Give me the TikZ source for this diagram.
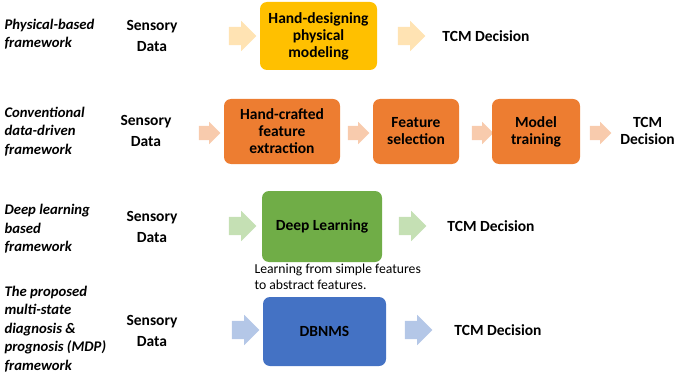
\documentclass[tikz,border=0pt]{standalone}
\usepackage{fontspec}
\setmainfont{Carlito}
\usetikzlibrary{shapes.arrows}
\definecolor{yellowbox}{HTML}{FFC000}
\definecolor{yellowarr}{HTML}{FFE3B3}
\definecolor{orangebox}{HTML}{ED7D31}
\definecolor{orangearr}{HTML}{F8CBAD}
\definecolor{greenbox}{HTML}{70AD47}
\definecolor{greenarr}{HTML}{C5E0B4}
\definecolor{bluebox}{HTML}{4472C4}
\definecolor{bluearr}{HTML}{B4C7E7}
\begin{document}
\begin{tikzpicture}[x=1pt, y=-1pt,
		every node/.style = {font=\fontsize{15.5}{21}\selectfont\bfseries, align=center},
		frame/.style = {font=\fontsize{14.7}{18.5}\selectfont\bfseries\itshape, anchor=west, align=left},
		block/.style = {rounded corners=7pt, inner sep=0pt, font=\fontsize{15.5}{17}\selectfont\bfseries},
		bigarrow/.style = {single arrow, inner sep=9pt, single arrow head extend=6pt,
			minimum height=26pt},
		smallarrow/.style = {single arrow, inner sep=7pt, single arrow head extend=4pt,
			minimum height=18pt}]
		\useasboundingbox (0,0) rectangle (676,374);
		
		% physical-based
		\node[frame] (lab1) at (1,34) {Physical-based\\framework};
		\node (in1) at (152,35.5) {Sensory\\Data};
		\node[bigarrow, fill=yellowarr] (a11) at (238,36) {};
		\node[block, fill=yellowbox, minimum width=117pt, minimum height=68pt] (hand) at (318.5,36) {Hand-designing\\physical\\modeling};
		\node[bigarrow, fill=yellowarr] (a12) at (407,36) {};
		\node (out1) at (486,36) {TCM Decision};
		
		% conventional data-driven
		\node[frame] (lab2) at (1,131.5) {Conventional\\data-driven\\framework};
		\node (in2) at (146,131) {Sensory\\Data};
		\node[smallarrow, fill=orangearr] (a21) at (206,133) {};
		\node[block, fill=orangebox, minimum width=116pt, minimum height=65pt] (extract) at (282,131.5) {Hand-crafted\\feature\\extraction};
		\node[smallarrow, fill=orangearr] (a22) at (355,133) {};
		\node[block, fill=orangebox, minimum width=86pt, minimum height=65pt] (select) at (416,131.5) {Feature\\selection};
		\node[smallarrow, fill=orangearr] (a23) at (479,133) {};
		\node[block, fill=orangebox, minimum width=88pt, minimum height=65pt] (train) at (536,131.5) {Model\\training};
		\node[smallarrow, fill=orangearr] (a24) at (597,133) {};
		\node[font=\fontsize{15.5}{17}\selectfont\bfseries, inner sep=0pt, anchor=east] (out2) at (675,131) {TCM\\Decision};
		
		% deep learning
		\node[frame] (lab3) at (1,229) {Deep learning\\based\\framework};
		\node (in3) at (152,227) {Sensory\\Data};
		\node[bigarrow, fill=greenarr] (a31) at (238,226) {};
		\node[block, fill=greenbox, minimum width=120pt, minimum height=71pt] (deep) at (322,226.5) {Deep Learning};
		\node[bigarrow, fill=greenarr] (a32) at (408,226) {};
		\node (out3) at (491,226) {TCM Decision};
		\node[font=\fontsize{13.7}{16}\selectfont, anchor=north west, align=left] (note) at (251,260) {Learning from simple features\\to abstract features.};
		
		% proposed MDP
		\node[frame] (lab4) at (1,329) {The proposed\\multi-state\\diagnosis \&\\prognosis (MDP)\\framework};
		\node (in4) at (152,331) {Sensory\\Data};
		\node[bigarrow, fill=bluearr] (a41) at (241,330) {};
		\node[block, fill=bluebox, minimum width=123pt, minimum height=69pt] (dbn) at (324.5,331.5) {DBNMS};
		\node[bigarrow, fill=bluearr] (a42) at (414,330) {};
		\node (out4) at (498,330) {TCM Decision};
\end{tikzpicture}
\end{document}
